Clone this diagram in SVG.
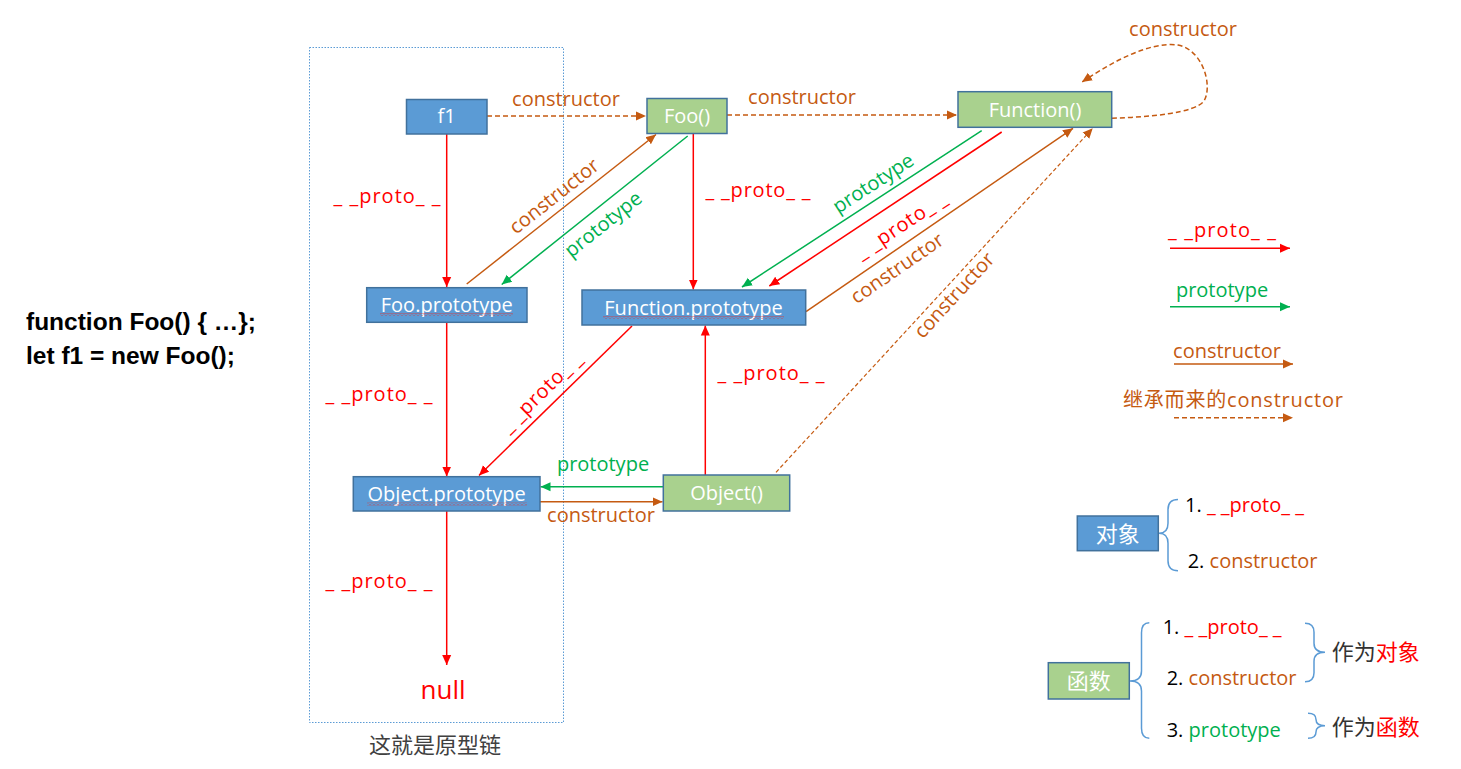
<svg xmlns="http://www.w3.org/2000/svg" width="1461" height="769" viewBox="0 0 1461 769">
<style>
text{font-family:"Open Sans","Noto Sans CJK SC",sans-serif;font-size:20px}
.nb{fill:#5B9BD5;stroke:#41719C;stroke-width:1.5}
.ng{fill:#A9D18E;stroke:#41719C;stroke-width:1.5}
.nt{fill:#fff;text-anchor:middle}
.red{fill:#FF0000}
.grn{fill:#00B050}
.org{fill:#C55A11}
.blk{fill:#000}
.c{text-anchor:middle}
.code{font-family:"Liberation Sans",sans-serif;font-weight:bold;font-size:24.5px}
.lr{stroke:#FF0000;stroke-width:1.5;fill:none;marker-end:url(#ar)}
.lg{stroke:#00B050;stroke-width:1.5;fill:none;marker-end:url(#ag)}
.lo{stroke:#C55A11;stroke-width:1.5;fill:none;marker-end:url(#ao)}
.ld{stroke:#C55A11;stroke-width:1.5;fill:none;stroke-dasharray:5 3;marker-end:url(#ao)}
.ldt{stroke:#C55A11;stroke-width:1.2;fill:none;stroke-dasharray:4 2.5;marker-end:url(#ao)}
.br{stroke:#5B9BD5;stroke-width:1.5;fill:none}
.wv{fill:url(#wavy)}
</style>
<defs>
<marker id="ar" markerUnits="userSpaceOnUse" markerWidth="11" markerHeight="10" refX="10" refY="5" orient="auto"><path d="M0,0.5 L10,5 L0,9.5 z" fill="#FF0000"/></marker>
<marker id="ag" markerUnits="userSpaceOnUse" markerWidth="11" markerHeight="10" refX="10" refY="5" orient="auto"><path d="M0,0.5 L10,5 L0,9.5 z" fill="#00B050"/></marker>
<marker id="ao" markerUnits="userSpaceOnUse" markerWidth="11" markerHeight="10" refX="10" refY="5" orient="auto"><path d="M0,0.5 L10,5 L0,9.5 z" fill="#C55A11"/></marker>
<pattern id="wavy" patternUnits="userSpaceOnUse" width="4" height="3"><polyline points="0,2.5 2,0.5 4,2.5" fill="none" stroke="#E03030" stroke-width="0.8"/></pattern>
</defs>

<rect id="chain-box" x="309.5" y="47.5" width="254" height="675" fill="none" stroke="#5B9BD5" stroke-width="1" stroke-dasharray="1.5 1.5"/>
<text x="435" y="753" class="c" style="font-size:22px;fill:#404040">这就是原型链</text>

<g id="code">
<text x="26" y="330" class="code">function Foo() { …};</text>
<text x="26" y="364" class="code">let f1 = new Foo();</text>
</g>

<g id="connectors">
<line class="ld" x1="487" y1="116" x2="646" y2="116"/>
<line class="ld" x1="727" y1="115" x2="957" y2="115"/>
<line class="lr" x1="446.7" y1="134" x2="446.7" y2="287"/>
<line class="lo" x1="466.7" y1="284" x2="656" y2="134.5"/>
<line class="lg" x1="687.7" y1="136" x2="501.7" y2="284.5"/>
<line class="lr" x1="693.3" y1="134" x2="693.3" y2="289.5"/>
<line class="lg" x1="981.7" y1="130.7" x2="742" y2="287"/>
<line class="lr" x1="1001.7" y1="132" x2="769.3" y2="286"/>
<line class="lo" x1="806" y1="311.7" x2="1073" y2="128.3"/>
<line class="ldt" x1="776" y1="472.3" x2="1092.7" y2="128.3"/>
<path class="ld" d="M1112,118.3 C1150,117 1195,113 1204,101 C1213,86 1203,50 1178,45 C1150,41 1112,62 1082,82"/>
<line class="lr" x1="446.7" y1="322.3" x2="446.7" y2="476.5"/>
<line class="lr" x1="632" y1="326" x2="479" y2="475.5"/>
<line class="lr" x1="705.3" y1="475" x2="705.3" y2="325.5"/>
<line class="lg" x1="663.3" y1="486.7" x2="540.5" y2="486.7"/>
<line class="lo" x1="540" y1="501.7" x2="662.5" y2="501.7"/>
<line class="lr" x1="446.7" y1="511" x2="446.7" y2="665"/>
</g>

<g id="connector-labels">
<text x="566" y="106" class="org c">constructor</text>
<text x="802" y="104" class="org c">constructor</text>
<text x="387" y="203" class="red c" textLength="107" lengthAdjust="spacing">_ _proto_ _</text>
<text transform="translate(554,196) rotate(-38.4)" x="0" y="7" class="org c">constructor</text>
<text transform="translate(603,224) rotate(-38.5)" x="0" y="7" class="grn c">prototype</text>
<text x="758" y="197" class="red c" textLength="105" lengthAdjust="spacing">_ _proto_ _</text>
<text transform="translate(873,183) rotate(-33)" x="0" y="7" class="grn c">prototype</text>
<text transform="translate(901,225) rotate(-33.5)" x="0" y="7" class="red c" textLength="105" lengthAdjust="spacing">_ _proto_ _</text>
<text transform="translate(897,268) rotate(-34.6)" x="0" y="7" class="org c">constructor</text>
<text transform="translate(954,295) rotate(-47.4)" x="0" y="7" class="org c">constructor</text>
<text x="1183" y="36" class="org c">constructor</text>
<text x="379" y="401" class="red c" textLength="107" lengthAdjust="spacing">_ _proto_ _</text>
<text transform="translate(541,392) rotate(-44.4)" x="0" y="7" class="red c" textLength="105" lengthAdjust="spacing">_ _proto_ _</text>
<text x="771" y="380" class="red c" textLength="107" lengthAdjust="spacing">_ _proto_ _</text>
<text x="603" y="471" class="grn c">prototype</text>
<text x="601" y="522" class="org c">constructor</text>
<text x="379" y="588" class="red c" textLength="107" lengthAdjust="spacing">_ _proto_ _</text>
</g>

<g id="node-f1"><rect class="nb" x="406.5" y="99.5" width="80.5" height="34.5"/><text x="446.7" y="123" class="nt">f1</text></g>
<g id="node-Foo"><rect class="ng" x="647" y="98.5" width="80" height="35"/><text x="687" y="123" class="nt">Foo()</text></g>
<g id="node-Function"><rect class="ng" x="958" y="91.7" width="153.7" height="35.6"/><text x="1035" y="116.5" class="nt">Function()</text></g>
<g id="node-FooPrototype"><rect class="nb" x="366.7" y="287.7" width="160.3" height="34.6"/><text x="446.7" y="312" class="nt">Foo.prototype</text><rect class="wv" x="380" y="313" width="133" height="3"/></g>
<g id="node-FunctionPrototype"><rect class="nb" x="582" y="290" width="223.7" height="35"/><text x="693.5" y="314.5" class="nt">Function.prototype</text><rect class="wv" x="603" y="316" width="181" height="3"/></g>
<g id="node-ObjectPrototype"><rect class="nb" x="353.3" y="476.7" width="186.7" height="34.3"/><text x="446.7" y="501" class="nt">Object.prototype</text><rect class="wv" x="367" y="502.5" width="160" height="3"/></g>
<g id="node-Object"><rect class="ng" x="663.3" y="475" width="126.4" height="36"/><text x="726.5" y="500" class="nt">Object()</text></g>
<g id="node-null"><text x="443" y="699" class="red c" style="font-size:26px">null</text></g>

<g id="legend">
<text x="1222" y="237" class="red c" textLength="108" lengthAdjust="spacing">_ _proto_ _</text>
<line class="lr" x1="1170" y1="248.3" x2="1290" y2="248.3"/>
<text x="1222" y="297" class="grn c">prototype</text>
<line class="lg" x1="1170" y1="306.7" x2="1290" y2="306.7"/>
<text x="1227" y="358" class="org c">constructor</text>
<line class="lo" x1="1174" y1="364" x2="1293" y2="364"/>
<text x="1233" y="407" class="org c" textLength="220" lengthAdjust="spacing">继承而来的constructor</text>
<line class="ld" x1="1174" y1="417.7" x2="1293" y2="417.7"/>
</g>

<g id="node-object-kind"><rect class="nb" x="1077.3" y="516" width="81" height="34.7"/><text x="1117.8" y="541.5" class="nt" style="font-size:22px">对象</text></g>
<g id="object-props">
<path class="br" d="M1178,499.5 Q1168,499.5 1168,509.5 L1168,523.3 Q1168,533.3 1159,533.3 Q1168,533.3 1168,543.3 L1168,560.7 Q1168,570.7 1178,570.7"/>
<text x="1185" y="512" class="blk">1. <tspan class="red">_ _proto_ _</tspan></text>
<text x="1187.7" y="568" class="blk">2. <tspan class="org">constructor</tspan></text>
</g>

<g id="node-function-kind"><rect class="ng" x="1048.3" y="662.7" width="81" height="36.3"/><text x="1088.8" y="689" class="nt" style="font-size:22px">函数</text></g>
<g id="function-props">
<path class="br" d="M1149.3,622.7 Q1141.5,622.7 1141.5,632.7 L1141.5,671 Q1141.5,681 1130,681 Q1141.5,681 1141.5,691 L1141.5,728.3 Q1141.5,738.3 1149.3,738.3"/>
<text x="1162.7" y="634" class="blk">1. <tspan class="red">_ _proto_ _</tspan></text>
<text x="1166.7" y="685" class="blk">2. <tspan class="org">constructor</tspan></text>
<text x="1166.7" y="736.7" class="blk">3. <tspan class="grn">prototype</tspan></text>
<path class="br" d="M1305,623.3 Q1314,623.3 1314,632.3 L1314,643.3 Q1314,652.3 1325,652.3 Q1314,652.3 1314,661.3 L1314,672.7 Q1314,681.7 1305,681.7"/>
<text x="1331.7" y="660" style="font-size:22px;fill:#333">作为<tspan class="red">对象</tspan></text>
<path class="br" d="M1308,713.3 Q1316,713.3 1316,719.5 Q1316,725.7 1325,725.7 Q1316,725.7 1316,732 Q1316,738.3 1308,738.3"/>
<text x="1331.7" y="735" style="font-size:22px;fill:#333">作为<tspan class="red">函数</tspan></text>
</g>
</svg>
